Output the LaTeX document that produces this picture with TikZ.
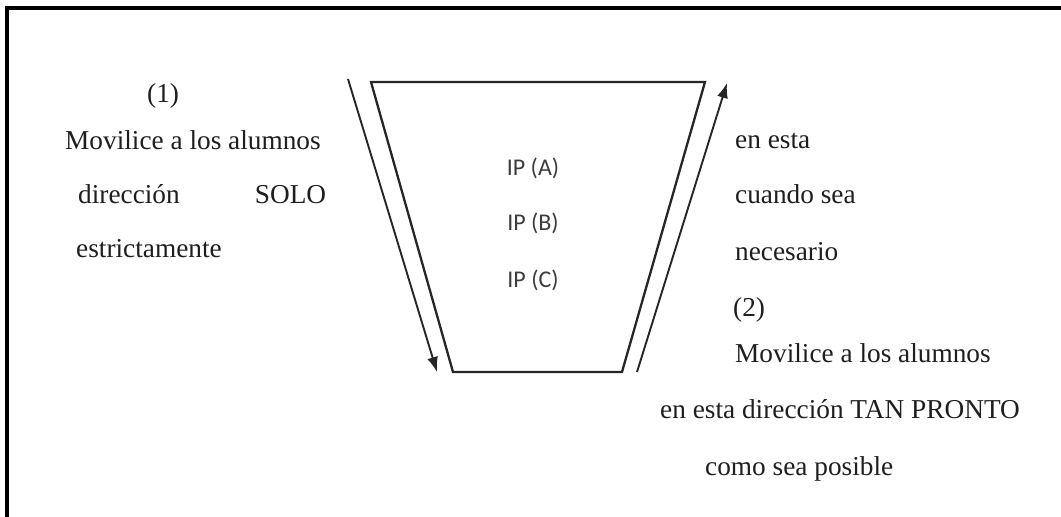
\documentclass[tikz,border=0pt]{standalone}
\usepackage{fontspec}
\setmainfont{Liberation Serif}
\newfontfamily\ipfont{Carlito}
\usetikzlibrary{arrows.meta}
\definecolor{txt}{HTML}{1E1E1E}
\definecolor{iptxt}{HTML}{3C3C3C}
\tikzset{
  lbl/.style={inner sep=0pt, anchor=base west, text=txt, font=\fontsize{27.3}{30}\selectfont},
  iplbl/.style={inner sep=0pt, text=iptxt, font=\ipfont\fontsize{24}{27}\selectfont},
  trap/.style={line width=2.3pt, draw=black!85},
  flow/.style={line width=1.9pt, draw=black!85, -{Latex[length=15pt,width=11pt]}},
  frame/.style={line width=3.2pt, draw=black}
}
\begin{document}
\begin{tikzpicture}[x=1pt,y=-1pt]
\useasboundingbox (0,0) rectangle (1061,517);
% frame (top and left edges)
\coordinate (fbl) at (7,517);
\coordinate (ftl) at (7,8);
\coordinate (ftr) at (1061,8);
\draw[frame] (fbl) -- (ftl) -- (ftr);
% trapezoid
\coordinate (tl) at (371,82);
\coordinate (tr) at (705,82);
\coordinate (br) at (622,372);
\coordinate (bl) at (453,372);
\draw[trap] (tl) -- (tr) -- (br) -- (bl) -- cycle;
% arrows
\coordinate (a1s) at (348,79);
\coordinate (a1e) at (437,372);
\coordinate (a2s) at (637,372);
\coordinate (a2e) at (727,83);
\draw[flow] (a1s) -- (a1e);
\draw[flow] (a2s) -- (a2e);
% IP labels
\node[iplbl] (ipa) at (533,168) {IP (A)};
\node[iplbl] (ipb) at (533,223) {IP (B)};
\node[iplbl] (ipc) at (533,280) {IP (C)};
% left text
\node[lbl] (l1) at (147,102) {(1)};
\node[lbl] (l2) at (65,149) {Movilice a los alumnos};
\node[lbl, text width=248pt] (l3) at (78,203) {dirección\hfill SOLO};
\node[lbl] (l4) at (76,257) {estrictamente};
% right text
\node[lbl] (r1) at (735,148) {en esta};
\node[lbl] (r2) at (735,203) {cuando sea};
\node[lbl] (r3) at (735,260) {necesario};
\node[lbl] (r4) at (733,316) {(2)};
\node[lbl] (r5) at (735,362) {Movilice a los alumnos};
\node[lbl] (r6) at (660,418) {en esta dirección TAN PRONTO};
\node[lbl] (r7) at (705,475) {como sea posible};
\end{tikzpicture}
\end{document}
